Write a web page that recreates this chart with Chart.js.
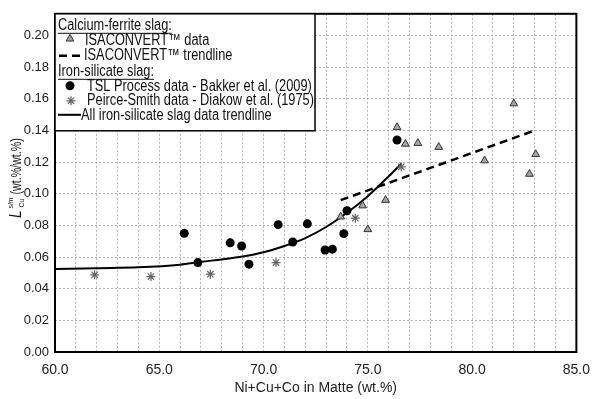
<!DOCTYPE html>
<html>
<head>
<meta charset="utf-8">
<style>
  html, body { margin: 0; padding: 0; background: #fff; }
  #wrap { width: 600px; height: 399px; }
</style>
</head>
<body>
<div id="wrap"><canvas id="chart" width="600" height="399"></canvas></div>
<script src="https://cdn.jsdelivr.net/npm/chart.js"></script>
<script>
// ISACONVERT (calcium-ferrite slag) data
const isaX = [76.4, 76.8, 77.4, 78.4, 80.6, 83.05, 82.75, 82.0, 75.85, 74.75, 73.7, 75.0];
const isaY = [0.142, 0.1315, 0.132, 0.1295, 0.121, 0.125, 0.1125, 0.157, 0.096, 0.0925, 0.0855, 0.0775];
// ISACONVERT trendline
const isaTrendX = [73.7, 83.0];
const isaTrendY = [0.096, 0.140];
// TSL Process data - Bakker et al. (2009)
const tslX = [66.2, 66.85, 68.4, 68.95, 69.3, 70.7, 71.4, 72.1, 72.95, 73.3, 73.85, 74.0, 76.4];
const tslY = [0.075, 0.0565, 0.069, 0.067, 0.0555, 0.0805, 0.0695, 0.081, 0.0645, 0.065, 0.0748, 0.0893, 0.134];
// Peirce-Smith data - Diakow et al. (1975)
const psX = [61.9, 64.6, 67.45, 70.6, 74.4, 76.6];
const psY = [0.0488, 0.0477, 0.0492, 0.0565, 0.0846, 0.117];
// all iron-silicate slag data trendline
const fitX = [60, 62, 64, 66, 67, 68, 69, 70, 71, 72, 73, 74, 75, 76, 76.6];
const fitY = [0.0525, 0.053, 0.0535, 0.0552, 0.057, 0.0585, 0.0603, 0.063, 0.067, 0.072, 0.079, 0.088, 0.0985, 0.111, 0.119];

const xTicks = [60, 61, 62, 63, 64, 65, 66, 67, 68, 69, 70, 71, 72, 73, 74, 75, 76, 77, 78, 79, 80, 81, 82, 83, 84, 85];
const yTicks = [0, 0.02, 0.04, 0.06, 0.08, 0.10, 0.12, 0.14, 0.16, 0.18, 0.20];

const FONT = "'Liberation Sans', Arial, sans-serif";
const pts = (xs, ys) => xs.map((x, i) => ({ x: x, y: ys[i] }));

const triStyle = { pointStyle: 'triangle', radius: 4.5, borderWidth: 1, bg: '#a6a6a6', border: '#333' };
const dotStyle = { pointStyle: 'circle', radius: 4.5, borderWidth: 0, bg: '#000', border: '#000' };
const starStyle = { pointStyle: 'star', radius: 4.5, borderWidth: 1.2, bg: '#666', border: '#666' };

// draws text squeezed horizontally (the original uses a condensed face)
function narrowText(ctx, txt, x, y, sx) {
  ctx.save();
  ctx.translate(x, y);
  ctx.scale(sx, 1);
  ctx.fillText(txt, 0, 0);
  const w = ctx.measureText(txt).width * sx;
  ctx.restore();
  return w;
}

// frame, legend box and y-axis title
const extras = {
  id: 'extras',
  afterDraw(chart) {
    const ctx = chart.ctx;
    const a = chart.chartArea;
    ctx.save();
    ctx.strokeStyle = '#000';
    ctx.lineWidth = 2;
    ctx.strokeRect(a.left, a.top, a.right - a.left, a.bottom - a.top);

    // legend
    const lx = a.left, ly = a.top, lw = 260, lh = 117;
    const SX = 0.8;
    ctx.fillStyle = '#fff';
    ctx.fillRect(lx, ly, lw, lh);
    ctx.lineWidth = 1.5;
    ctx.strokeRect(lx, ly, lw, lh);

    ctx.fillStyle = '#111';
    ctx.font = '16px ' + FONT;
    ctx.textBaseline = 'middle';
    ctx.textAlign = 'left';
    const heading = (txt, y) => {
      const w = narrowText(ctx, txt, lx + 3, y, SX);
      ctx.fillRect(lx + 3, y + 7, w, 1);
    };
    const marker = (st, x, y) => {
      ctx.fillStyle = st.bg;
      ctx.strokeStyle = st.border;
      ctx.lineWidth = st.borderWidth;
      Chart.helpers.drawPoint(ctx, { pointStyle: st.pointStyle, radius: st.radius, borderWidth: st.borderWidth, rotation: 0 }, x, y);
      ctx.fillStyle = '#111';
    };
    const ds = chart.data.datasets;
    heading('Calcium-ferrite slag:', ly + 12);
    marker(triStyle, lx + 15, ly + 25);
    narrowText(ctx, ds[0].label, lx + 30, ly + 27, SX);
    ctx.save();
    ctx.strokeStyle = '#000'; ctx.lineWidth = 2.5; ctx.setLineDash([8, 5]);
    ctx.beginPath(); ctx.moveTo(lx + 4, ly + 42); ctx.lineTo(lx + 28, ly + 42); ctx.stroke();
    ctx.restore();
    narrowText(ctx, ds[1].label, lx + 29, ly + 42, SX);
    heading('Iron-silicate slag:', ly + 58);
    marker(dotStyle, lx + 15, ly + 72);
    narrowText(ctx, ds[2].label, lx + 32, ly + 73, SX);
    marker(starStyle, lx + 16, ly + 87);
    narrowText(ctx, ds[3].label, lx + 32, ly + 87, SX);
    ctx.save();
    ctx.strokeStyle = '#000'; ctx.lineWidth = 2;
    ctx.beginPath(); ctx.moveTo(lx + 3, ly + 101); ctx.lineTo(lx + 26, ly + 101); ctx.stroke();
    ctx.restore();
    narrowText(ctx, ds[4].label, lx + 26, ly + 102, SX);

    // y-axis title: L (s/m, Cu) (wt.%/wt.%)
    ctx.save();
    ctx.translate(21, 218);
    ctx.rotate(-Math.PI / 2);
    ctx.textBaseline = 'alphabetic';
    ctx.fillStyle = '#111';
    ctx.font = 'italic 16px ' + FONT;
    let x = narrowText(ctx, 'L', 0, 0, 0.85) + 2;
    ctx.font = '8px ' + FONT;
    const w1 = narrowText(ctx, 's/m', x, -8, 0.85);
    narrowText(ctx, 'Cu', x + 1, 3, 0.85);
    x += w1 + 3;
    ctx.font = '14px ' + FONT;
    narrowText(ctx, '(wt.%/wt.%)', x, 0, 0.76);
    ctx.restore();
    ctx.restore();
  }
};

new Chart(document.getElementById('chart'), {
  type: 'scatter',
  data: {
    datasets: [
      {
        label: 'ISACONVERT\u2122 data',
        data: pts(isaX, isaY),
        pointStyle: triStyle.pointStyle, pointRadius: triStyle.radius,
        backgroundColor: triStyle.bg, borderColor: triStyle.border, borderWidth: triStyle.borderWidth,
        order: 1
      },
      {
        label: 'ISACONVERT\u2122 trendline',
        data: pts(isaTrendX, isaTrendY),
        showLine: true, pointRadius: 0,
        borderColor: '#000', borderWidth: 2.5, borderDash: [8, 5],
        order: 2
      },
      {
        label: 'TSL Process data - Bakker et al. (2009)',
        data: pts(tslX, tslY),
        pointStyle: 'circle', pointRadius: dotStyle.radius,
        backgroundColor: '#000', borderColor: '#000', borderWidth: 0,
        order: 1
      },
      {
        label: 'Peirce-Smith data - Diakow et al. (1975)',
        data: pts(psX, psY),
        pointStyle: 'star', pointRadius: starStyle.radius,
        backgroundColor: starStyle.bg, borderColor: starStyle.border, borderWidth: starStyle.borderWidth,
        order: 1
      },
      {
        label: 'All iron-silicate slag data trendline',
        data: pts(fitX, fitY),
        showLine: true, pointRadius: 0,
        borderColor: '#000', borderWidth: 2,
        cubicInterpolationMode: 'monotone',
        order: 2
      }
    ]
  },
  options: {
    responsive: false,
    animation: false,
    layout: { padding: { top: 10, right: 16, left: 0, bottom: 0 } },
    plugins: {
      legend: { display: false },
      tooltip: { enabled: false }
    },
    scales: {
      x: {
        type: 'linear',
        min: 60, max: 85,
        afterBuildTicks: s => { s.ticks = xTicks.map(v => ({ value: v })); },
        afterFit: s => { s.height = 47; },
        grid: { color: '#b5b5b5', lineWidth: 1, drawTicks: false },
        border: { display: false, dash: [2, 2] },
        ticks: {
          autoSkip: false, maxRotation: 0, padding: 10,
          color: '#222', font: { family: FONT, size: 14 },
          callback: v => (v % 5 === 0 ? v.toFixed(1) : '')
        },
        title: {
          display: true, text: 'Ni+Cu+Co in Matte (wt.%)',
          color: '#222', font: { family: FONT, size: 14 },
          padding: { top: 0, bottom: 2 }
        }
      },
      y: {
        type: 'linear',
        min: 0, max: 0.21375,
        afterBuildTicks: s => { s.ticks = yTicks.map(v => ({ value: v })); },
        afterFit: s => { s.width = 55; },
        grid: { color: '#b5b5b5', lineWidth: 1, drawTicks: false },
        border: { display: false, dash: [2, 2] },
        ticks: {
          padding: 6,
          color: '#222', font: { family: FONT, size: 13 },
          callback: v => v.toFixed(2)
        }
      }
    }
  },
  plugins: [extras]
});
</script>
</body>
</html>
